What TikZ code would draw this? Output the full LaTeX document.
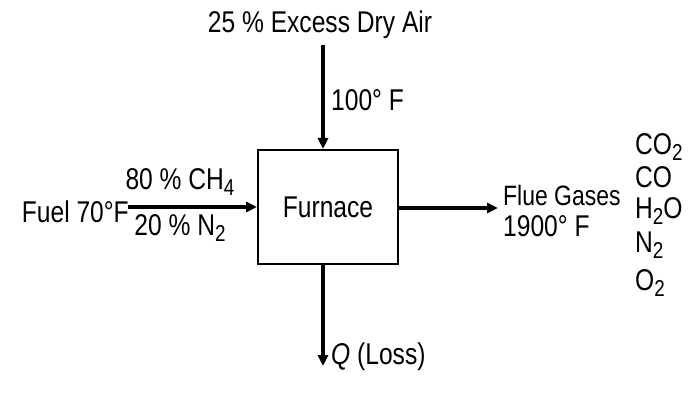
\documentclass[tikz,border=0pt]{standalone}
\usepackage{fontspec}
\setmainfont[FakeStretch=0.82]{Liberation Sans}
\usetikzlibrary{arrows.meta}
\newcommand\lowr[1]{\raisebox{-0.35ex}{\fontsize{23}{23}\selectfont #1}}
\begin{document}
\begin{tikzpicture}[x=1pt,y=-1pt,
  lbl/.style={font=\fontsize{30}{32}\selectfont,inner sep=1pt},
  flow/.style={line width=3.5pt,-{Triangle[length=11pt,width=10pt]}}]
\useasboundingbox (0,0) rectangle (700,411);
\node[draw,line width=2pt,minimum width=140pt,minimum height=114pt,lbl] (f) at (328,207) {Furnace};
\coordinate (t) at (323,45);
\coordinate (b) at (323,366);
\coordinate (l) at (128,207);
\coordinate (r) at (498,208);
\draw[flow] (t) -- (t|-f.north);
\draw[flow] (f.south-|b) -- (b);
\draw[flow] (l) -- (l-|f.west);
\draw[flow] (f.east|-r) -- (r);
\node[lbl] (ea) at (320,25) {25 \% Excess Dry Air};
\node[lbl,anchor=west] (t1) at (330,100) {100° F};
\node[lbl,anchor=east] (fu) at (130,212) {Fuel 70°F};
\node[lbl] (c1) at (180,182) {80 \% CH\lowr{4}};
\node[lbl] (c2) at (180,228) {20 \% N\lowr{2}};
\node[lbl,anchor=west,font=\fontsize{28}{30}\selectfont] (fg) at (502,195) {Flue Gases};
\node[lbl,anchor=west] (t2) at (502,226) {1900° F};
\node[lbl,anchor=west] (g1) at (634,147) {CO\lowr{2}};
\node[lbl,anchor=west] (g2) at (634,177) {CO};
\node[lbl,anchor=west] (g3) at (634,211) {H\lowr{2}O};
\node[lbl,anchor=west] (g4) at (634,245) {N\lowr{2}};
\node[lbl,anchor=west] (g5) at (634,283) {O\lowr{2}};
\node[lbl,anchor=west] (q) at (330,357) {\textit{Q} (Loss)};
\end{tikzpicture}
\end{document}
